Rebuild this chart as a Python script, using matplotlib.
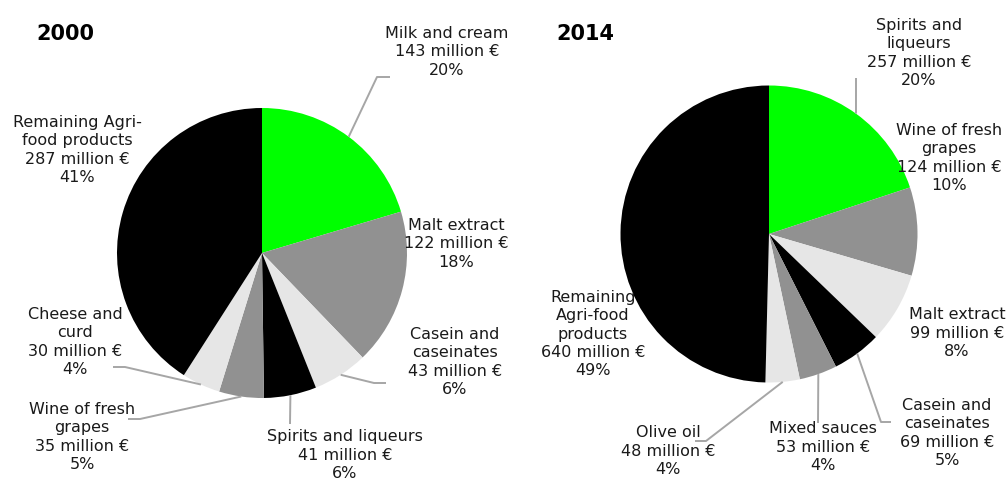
import numpy as np
import matplotlib
matplotlib.use("Agg")
import matplotlib.pyplot as plt

# ---- data ----
labels_2000 = ["Milk and cream", "Malt extract", "Casein and\ncaseinates", "Spirits and liqueurs",
               "Wine of fresh\ngrapes", "Cheese and\ncurd", "Remaining Agri-\nfood products"]
values_2000 = [143, 122, 43, 41, 35, 30, 287]
pct_2000 = [20, 18, 6, 6, 5, 4, 41]

labels_2014 = ["Spirits and\nliqueurs", "Wine of fresh\ngrapes", "Malt extract", "Casein and\ncaseinates",
               "Mixed sauces", "Olive oil", "Remaining\nAgri-food\nproducts"]
values_2014 = [257, 124, 99, 69, 53, 48, 640]
pct_2014 = [20, 10, 8, 5, 4, 4, 49]

colors = ["#00ff00", "#919191", "#e6e6e6", "#000000", "#919191", "#e6e6e6", "#000000"]

W, H = 1008, 482
fig = plt.figure(figsize=(W / 100, H / 100), dpi=100)
ax = fig.add_axes([0, 0, 1, 1])

TXT = "#1a1a1a"
LINE = "#a6a6a6"
FS = 11.5


def Y(y):
    return H - y


def draw(values, labels, pct, center, radius, label_pos, leaders, title, title_pos):
    ax.pie(values, colors=colors, startangle=90, counterclock=False,
           radius=radius, center=(center[0], Y(center[1])), frame=True,
           wedgeprops=dict(linewidth=0))
    total = float(sum(values))
    cum = np.cumsum([0] + list(values))
    for i, (lab, v, p) in enumerate(zip(labels, values, pct)):
        txt = f"{lab}\n{v} million €\n{p}%"
        x, y = label_pos[i]
        ax.text(x, Y(y), txt, ha="center", va="center", multialignment="center",
                fontsize=FS, color=TXT, linespacing=1.28, zorder=5)
        if leaders[i] is not None:
            frac = (cum[i] + v / 2.0) / total
            ang = np.deg2rad(90 - frac * 360)
            sx = center[0] + radius * np.cos(ang)
            sy = Y(center[1]) + radius * np.sin(ang)
            xs = [sx] + [q[0] for q in leaders[i]]
            ys = [sy] + [Y(q[1]) for q in leaders[i]]
            ax.plot(xs, ys, color=LINE, lw=1.4, solid_capstyle="butt", zorder=4)
    ax.text(title_pos[0], Y(title_pos[1]), title, ha="center", va="center",
            fontsize=15, fontweight="bold", color="#000000")


# left pie (2000)
pos_2000 = [(447, 52), (456, 244), (455, 362), (345, 455), (82, 437), (75, 342), (77, 150)]
lead_2000 = [[(377, 77), (390, 77)], None, [(374, 383), (386, 383)], [(290, 424)],
             [(140, 419), (128, 419)], [(125, 367), (113, 367)], None]
draw(values_2000, labels_2000, pct_2000, (262, 253), 145, pos_2000, lead_2000, "2000", (65, 34))

# right pie (2014)
pos_2014 = [(919, 53), (949, 158), (957, 333), (947, 433), (823, 447), (668, 451), (593, 334)]
lead_2014 = [[(856, 78)], None, None, [(881, 422), (891, 422)], [(818, 423)],
             [(706, 441), (695, 441)], None]
draw(values_2014, labels_2014, pct_2014, (769, 234), 148.5, pos_2014, lead_2014, "2014", (585, 34))

ax.set_xlim(0, W)
ax.set_ylim(0, H)
ax.set_aspect("auto")
ax.axis("off")
fig.savefig("out.png", dpi=100, facecolor="white")
